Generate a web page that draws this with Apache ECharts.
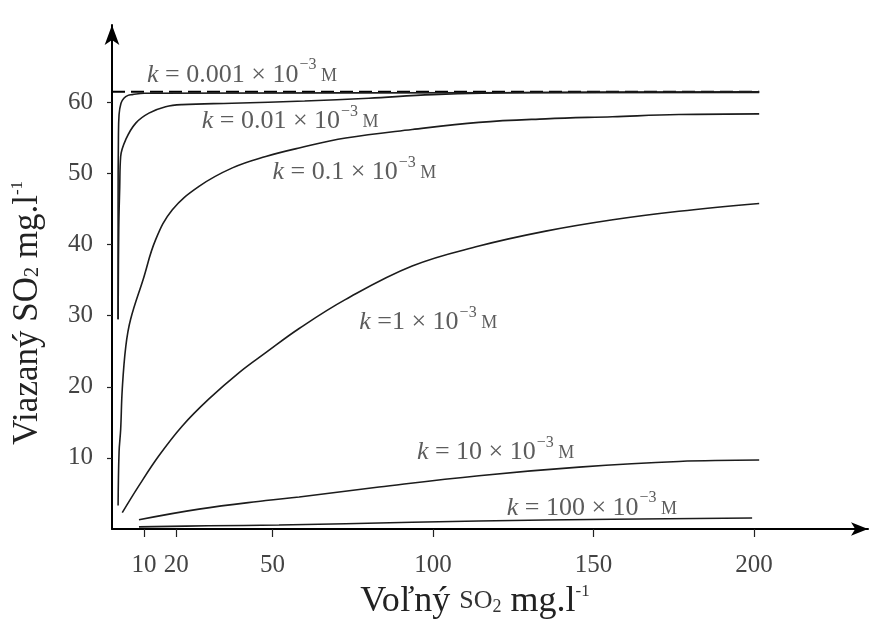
<!DOCTYPE html>
<html>
<head>
<meta charset="utf-8">
<script src="https://cdn.jsdelivr.net/npm/echarts@6/dist/echarts.min.js"></script>
<style>
	html, body { margin: 0; padding: 0; background: #fff; }
	#chart { width: 877px; height: 619px; }
</style>
</head>
<body>
<div id="chart"></div>
<script>
// values (free SO2 -> bound SO2)
var k0001 = [[1.9, 29.5], [1.9, 45], [2.0, 55], [2.2, 58.3], [2.8, 59.9], [3.7, 60.6], [5, 61], [6.3, 61.1], [10, 61.3], [201.6, 61.4]];
var k001 = [[1.9, 29.5], [2.1, 42], [2.4, 48], [2.7, 52.4], [4.3, 54.8], [7.4, 57.1], [11.5, 58.5], [16.7, 59.4], [21.8, 59.7], [37.4, 59.9], [60, 60.2], [80, 60.6], [100, 61.1], [130, 61.4], [201.6, 61.5]];
var k01 = [[1.9, 3.3], [2.2, 10.8], [2.7, 14], [3.2, 19.7], [4.3, 25.7], [5.8, 29.5], [9.7, 35.1], [13.6, 40.7], [18.8, 44.9], [27.1, 48.2], [37.5, 50.8], [47.9, 52.4], [58.3, 53.6], [72.8, 55], [93.5, 56.2], [114.3, 57.2], [135.1, 57.7], [155.9, 58], [176.6, 58.3], [201.6, 58.4]];
var k1 = [[3.2, 2.3], [8.4, 6.1], [14.6, 10.3], [21.9, 14.5], [30.2, 18.3], [39.6, 22], [47.9, 24.8], [58.3, 28.2], [72.8, 32.3], [93.5, 37.0], [114.3, 39.8], [135.1, 41.9], [156, 43.5], [176.6, 44.7], [201.6, 45.8]];
var k10 = [[8.4, 1.3], [27.1, 2.8], [47.9, 4.0], [58.3, 4.5], [83.2, 5.9], [114.3, 7.5], [145.5, 8.7], [176.6, 9.5], [201.6, 9.7]];
var k100 = [[8.4, 0.3], [30, 0.45], [52, 0.56], [93.5, 0.94], [135, 1.26], [199.4, 1.55]];
var maxBound = [[0, 61.5], [201.6, 61.5]];

var xTicks = [10, 20, 50, 100, 150, 200];
var yTicks = [10, 20, 30, 40, 50, 60];

// curve labels: k value text and where it sits
var labelK = ['0.001', '0.01', '0.1', '1', '10', '100'];
var labelAt = [[40.5, 63.9], [55.5, 57.4], [75.5, 50.2], [98.5, 29.1], [119.5, 10.8], [149.5, 3.0]];

var serif = '"Liberation Serif", "DejaVu Serif", serif';
var ink = '#1c1c1c';

function curve(name, data) {
	return {
		name: name,
		type: 'line',
		data: data,
		smooth: 0.4,
		showSymbol: false,
		silent: true,
		lineStyle: { color: ink, width: 1.6 }
	};
}

var labelRich = {
	k: { fontFamily: serif, fontStyle: 'italic', fontSize: 26, color: '#333' },
	t: { fontFamily: serif, fontSize: 26, color: '#333' },
	sup: { fontFamily: serif, fontSize: 16, color: '#333', padding: [0, 0, 19, 1] },
	m: { fontFamily: serif, fontSize: 18, color: '#333', padding: [3, 0, 0, 0] }
};

var labelData = labelAt.map(function (p, i) {
	var eq = labelK[i] === '1' ? ' =' : ' = ';
	return {
		value: p,
		label: {
			formatter: '{k|k}{t|' + eq + labelK[i] + ' × 10}{sup|−3}{m| M}'
		}
	};
});

var chart = echarts.init(document.getElementById('chart'));
chart.setOption({
	animation: false,
	backgroundColor: '#fff',
	grid: { left: 112, right: 9, top: 25, bottom: 90, containLabel: false, outerBoundsMode: 'none' },
	xAxis: {
		type: 'value',
		min: 0,
		max: 235.5,
		splitLine: { show: false },
		axisLine: {
			onZero: false,
			symbol: ['none', 'arrow'],
			symbolSize: [10, 17],
			lineStyle: { color: '#000', width: 2 }
		},
		axisTick: {
			show: true,
			length: 8,
			customValues: xTicks,
			lineStyle: { color: '#222', width: 1.2 }
		},
		axisLabel: {
			customValues: xTicks,
			margin: 24,
			fontFamily: serif,
			fontSize: 25,
			color: '#444'
		},
		name: '{a|Voľný }{s|SO}{sb|2}{a| mg.l}{sp|-1}',
		nameLocation: 'middle',
		nameGap: 47,
		nameTextStyle: {
			padding: [0, 30, 0, 0],
			rich: {
				a: { fontFamily: serif, fontSize: 36, color: '#222' },
				s: { fontFamily: serif, fontSize: 26, color: '#333' },
				sb: { fontFamily: serif, fontSize: 18, color: '#333', padding: [11, 0, 0, 0] },
				sp: { fontFamily: serif, fontSize: 17, color: '#333', padding: [0, 0, 20, 0] }
			}
		}
	},
	yAxis: {
		type: 'value',
		min: 0,
		max: 70.9,
		splitLine: { show: false },
		axisLine: {
			onZero: false,
			symbol: ['none', 'arrow'],
			symbolSize: [11, 20],
			lineStyle: { color: '#000', width: 2 }
		},
		axisTick: {
			show: true,
			length: 5,
			customValues: yTicks,
			lineStyle: { color: '#222', width: 1.2 }
		},
		axisLabel: {
			customValues: yTicks,
			margin: 19,
			fontFamily: serif,
			fontSize: 25,
			color: '#444'
		},
		name: '{a|Viazaný SO}{sb|2}{a| mg.l}{sp|-1}',
		nameLocation: 'middle',
		nameRotate: 90,
		nameGap: 66,
		nameTextStyle: {
			padding: [0, 72, 0, 0],
			rich: {
				a: { fontFamily: serif, fontSize: 35, color: '#222' },
				sb: { fontFamily: serif, fontSize: 20, color: '#222', padding: [11, 0, 0, 0] },
				sp: { fontFamily: serif, fontSize: 17, color: '#222', padding: [0, 0, 20, 0] }
			}
		}
	},
	series: [
		{
			name: 'max',
			type: 'line',
			data: maxBound,
			showSymbol: false,
			silent: true,
			lineStyle: { color: '#000', width: 2, type: [13, 6] }
		},
		curve('k0001', k0001),
		curve('k001', k001),
		curve('k01', k01),
		curve('k1', k1),
		curve('k10', k10),
		curve('k100', k100),
		{
			name: 'labels',
			type: 'scatter',
			data: labelData,
			symbol: 'circle',
			symbolSize: 1,
			itemStyle: { color: 'rgba(0,0,0,0)' },
			silent: true,
			z: 5,
			label: {
				show: true,
				position: 'inside',
				rich: labelRich
			}
		}
	]
});
</script>
</body>
</html>
